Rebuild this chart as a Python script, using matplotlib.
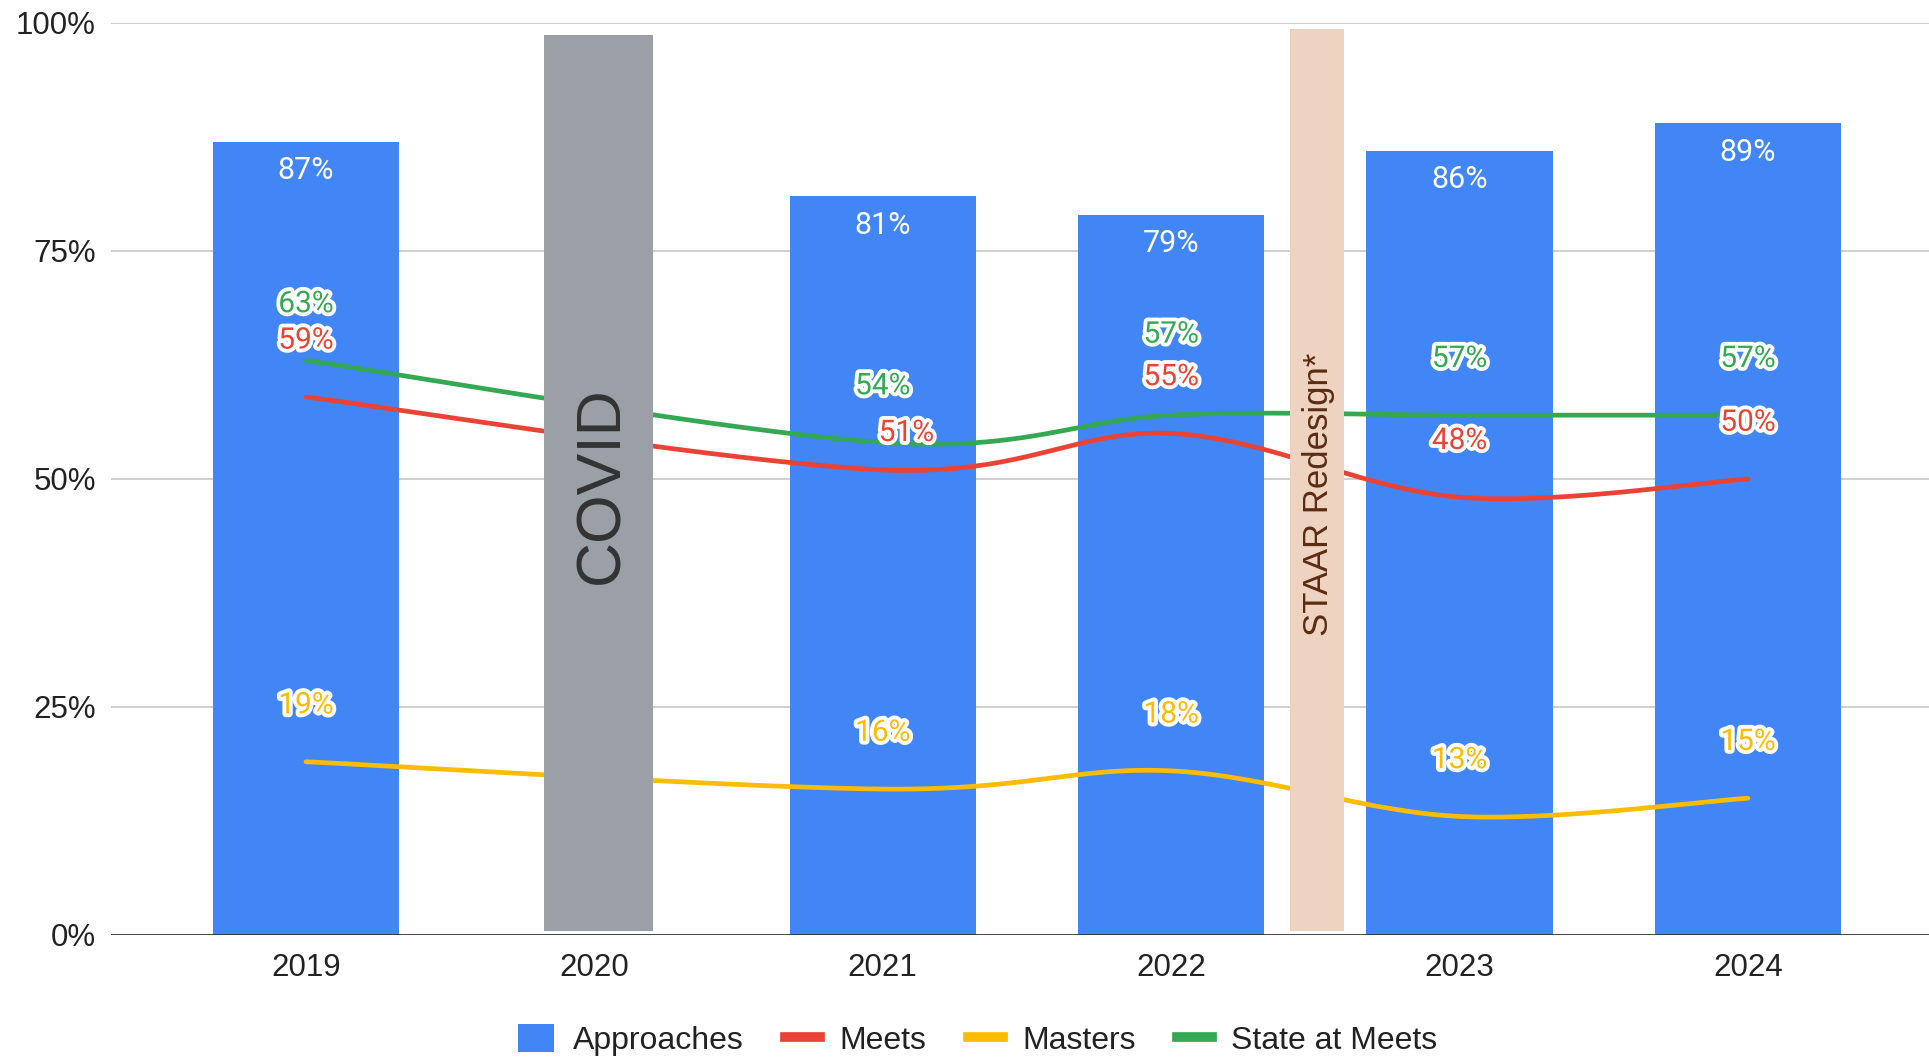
import numpy as np
import matplotlib
matplotlib.use("Agg")
import matplotlib.pyplot as plt
from matplotlib.patches import Patch, Rectangle
from matplotlib.lines import Line2D
import matplotlib.patheffects as pe

# ---------------- data ----------------
years = ["2019", "2020", "2021", "2022", "2023", "2024"]
data_years = ["2019", "2021", "2022", "2023", "2024"]
approaches = [87, 81, 79, 86, 89]
meets = [59, 51, 55, 48, 50]
masters = [19, 16, 18, 13, 15]
state_meets = [63, 54, 57, 57, 57]
y_ticks = [0, 25, 50, 75, 100]

# ---------------- style ----------------
BLUE = "#4285F4"
RED = "#EA4335"
YELLOW = "#FBBC04"
GREEN = "#34A853"
GRID = "#CCCCCC"
AX_FONT = ["Liberation Sans", "DejaVu Sans"]
LBL_FONT = ["Roboto", "DejaVu Sans"]

plt.rcParams["font.family"] = AX_FONT

W, H = 1929, 1060
fig = plt.figure(figsize=(W / 100, H / 100), dpi=100)
ax = fig.add_axes([111 / W, 1 - 935 / H, 1 - 111 / W, (935 - 23) / H])

xpos = {y: i for i, y in enumerate(years)}
xs = np.array([xpos[y] for y in data_years], dtype=float)

ax.set_xlim(-0.676, 5.628)
ax.set_ylim(0, 100)

# grid
for v in y_ticks[1:]:
    ax.axhline(v, color=GRID, lw=1.3, zorder=0)
ax.axhline(0, color="#333333", lw=2.0, zorder=6)

# bars
bars = ax.bar(xs, approaches, width=0.645, color=BLUE, zorder=1)
for x, v in zip(xs, approaches):
    ax.annotate(f"{v}%", (x, v), xytext=(0, -21), textcoords="offset points",
                ha="center", va="center", color="white", fontsize=22,
                family=LBL_FONT, zorder=7)


def catmull(xv, yv, n=60):
    P = np.column_stack([xv, yv]).astype(float)
    Pext = np.vstack([P[0], P, P[-1]])
    out = []
    for i in range(len(P) - 1):
        p0, p1, p2, p3 = Pext[i], Pext[i + 1], Pext[i + 2], Pext[i + 3]
        c1 = p1 + (p2 - p0) / 6.0
        c2 = p2 - (p3 - p1) / 6.0
        t = np.linspace(0, 1, n)[:, None]
        seg = ((1 - t) ** 3) * p1 + 3 * ((1 - t) ** 2) * t * c1 + 3 * (1 - t) * t ** 2 * c2 + t ** 3 * p2
        out.append(seg if i == 0 else seg[1:])
    out = np.vstack(out)
    return out[:, 0], out[:, 1]


series = [(meets, RED), (masters, YELLOW), (state_meets, GREEN)]
for vals, col in series:
    cx, cy = catmull(xs, vals)
    ax.plot(cx, cy, color=col, lw=3.4, zorder=3, solid_capstyle="round")

# label offsets (points); collisions adjusted as in reference
default_off = (0, 40.5)
special_off = {(RED, "2021"): (17, 26.5), (GREEN, "2022"): (0, 58.0)}
for vals, col in series:
    for yr, x, v in zip(data_years, xs, vals):
        off = special_off.get((col, yr), default_off)
        t = ax.annotate(f"{v}%", (x, v), xytext=off, textcoords="offset points",
                        ha="center", va="center", color=col, fontsize=21.5,
                        family=LBL_FONT, zorder=8)
        t.set_path_effects([pe.withStroke(linewidth=5.5, foreground="white")])

# event boxes
covid_x = xpos["2020"] + 0.015
ax.add_patch(Rectangle((covid_x - 0.19, 0.4), 0.38, 98.3, facecolor="#9AA0A6",
                       edgecolor="none", zorder=5))
ax.text(covid_x + 0.012, 49.3, "COVID", rotation=90, ha="center", va="center",
        fontsize=45, color="#333333", zorder=6)

staar_x = (xpos["2022"] + xpos["2023"]) / 2 + 0.007
ax.add_patch(Rectangle((staar_x - 0.094, 0.4), 0.188, 98.9, facecolor="#EFD3C1",
                       edgecolor="none", zorder=5))
ax.text(staar_x + 0.005, 48.3, "STAAR Redesign*", rotation=90, ha="center", va="center",
        fontsize=25, color="#5B2C12", zorder=6)

# axes styling
ax.set_xticks(range(len(years)))
ax.set_xticklabels(years)
ax.set_yticks(y_ticks)
ax.set_yticklabels([f"{v}%" for v in y_ticks])
ax.tick_params(axis="both", length=0, labelsize=22.5, colors="#222222")
ax.tick_params(axis="x", pad=13)
ax.tick_params(axis="y", pad=11)
for s in ax.spines.values():
    s.set_visible(False)

handles = [
    Patch(facecolor=BLUE, edgecolor="none"),
    Line2D([], [], color=RED, lw=7),
    Line2D([], [], color=YELLOW, lw=7),
    Line2D([], [], color=GREEN, lw=7),
]
labels = ["Approaches", "Meets", "Masters", "State at Meets"]
fig.legend(handles, labels, loc="center", bbox_to_anchor=(978 / W, 1 - 1040 / H),
           ncol=4, frameon=False, fontsize=23, handlelength=1.1, handleheight=1.0,
           handletextpad=0.6, columnspacing=1.3, labelcolor="#222222")

fig.savefig("out.png", dpi=100)
